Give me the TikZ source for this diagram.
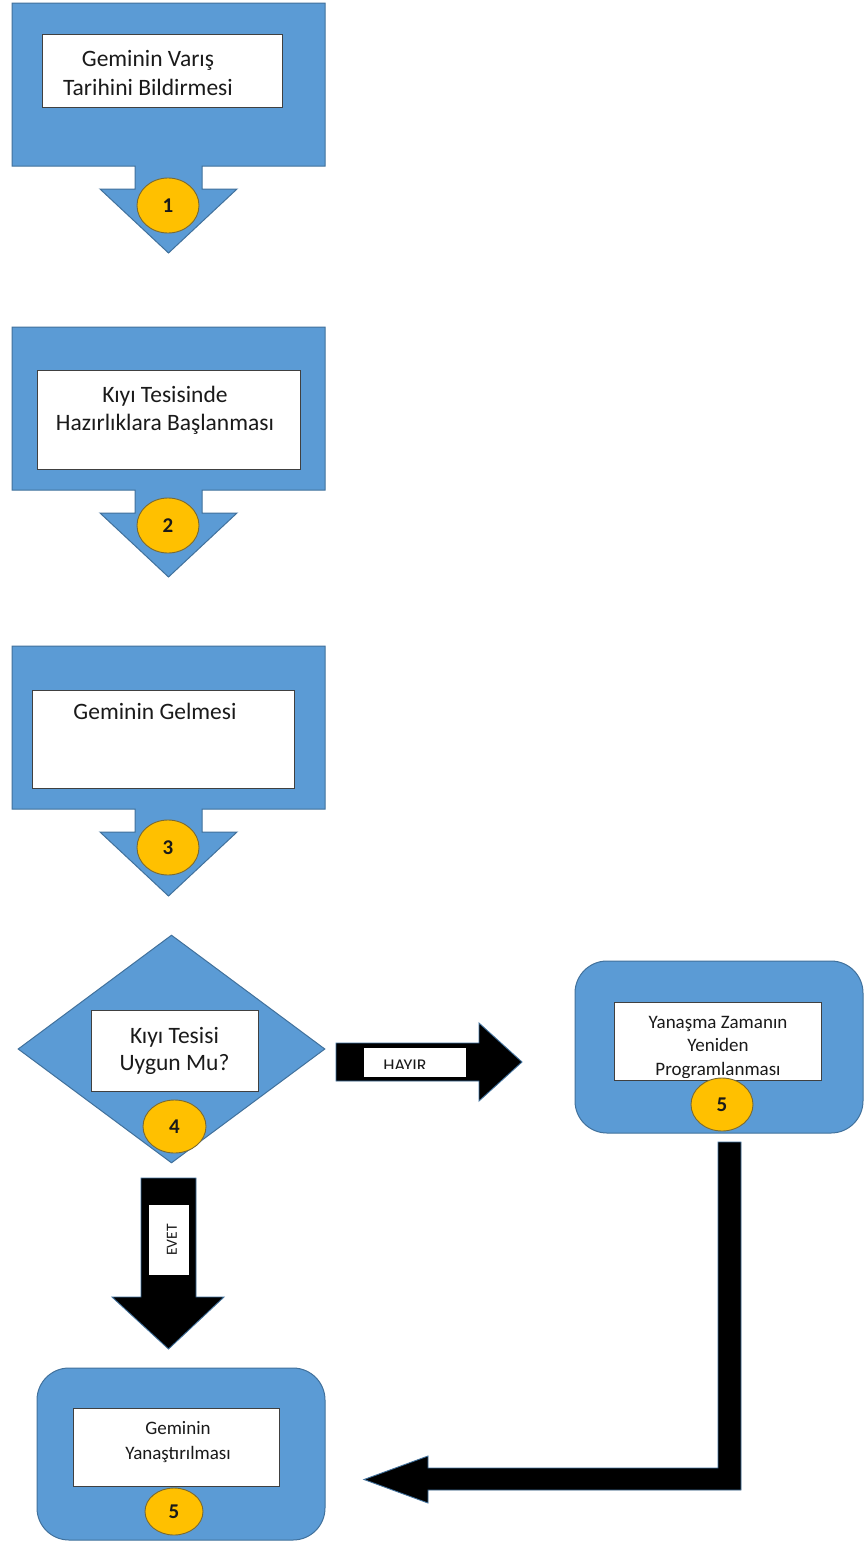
\documentclass[tikz,border=0pt]{standalone}
\usepackage{fontspec}
\setmainfont{Carlito}
\usetikzlibrary{shapes.geometric}
\definecolor{bfill}{HTML}{5B9BD5}
\definecolor{bline}{HTML}{41719C}
\definecolor{yfill}{HTML}{FFC000}
\definecolor{yline}{HTML}{7A6A32}
\definecolor{txt}{HTML}{1A1A1A}
\newcommand\mycallout[1]{%
  \path[blueshape] (12,#1) -- (325,#1) -- (325,{#1+163}) -- (202,{#1+163}) -- (202,{#1+186}) -- (237,{#1+186}) -- (168.5,{#1+250}) -- (100,{#1+186}) -- (135,{#1+186}) -- (135,{#1+163}) -- (12,{#1+163}) -- cycle;}
\begin{document}
\begin{tikzpicture}[x=1pt,y=-1pt,
  blueshape/.style={fill=bfill,draw=bline,line width=1pt},
  whitebox/.style={rectangle,fill=white,draw=black!75,line width=0.9pt,inner sep=0pt},
  numcircle/.style={ellipse,fill=yfill,draw=yline,line width=0.9pt,inner sep=0pt,font=\fontsize{21}{21}\selectfont\bfseries,text=txt},
  maintext/.style={font=\fontsize{23.5}{29}\selectfont,align=center,text=txt,inner sep=0pt},
  smalltext/.style={font=\fontsize{19}{23.5}\selectfont,align=center,text=txt,inner sep=0pt},
  blockarrow/.style={fill=black,draw=bline,line width=0.9pt},
  roundbox/.style={rectangle,rounded corners=32pt,fill=bfill,draw=bline,line width=1pt,minimum width=288pt,minimum height=172pt,inner sep=0pt},
]
\useasboundingbox (0,0) rectangle (867,1545);
\fill[white] (0,0) rectangle (867,1545);

% --- step 1 ---
\mycallout{3}
\node[whitebox, minimum width=240pt, minimum height=73pt] (b1) at (162,70.5) {};
\node[maintext] (t1) at (148,73) {Geminin Varış\\Tarihini Bildirmesi};

% --- step 2 ---
\mycallout{327}
\node[whitebox, minimum width=263pt, minimum height=99pt] (b2) at (168.5,419.5) {};
\node[maintext, font=\fontsize{23.5}{28}\selectfont] (t2) at (165,410) {Kıyı Tesisinde\\Hazırlıklara Başlanması};

% --- step 3 ---
\mycallout{646}
\node[whitebox, minimum width=262pt, minimum height=98pt] (b3) at (163,739) {};
\node[maintext, anchor=base] (t3) at (155,719) {Geminin Gelmesi};

% --- step 4 (decision) ---
\node[diamond, blueshape, minimum width=307pt, minimum height=228pt, inner sep=0pt] (d4) at (171.5,1049) {};
\node[whitebox, minimum width=167pt, minimum height=81pt] (b4) at (174.5,1050.5) {};
\node[maintext, font=\fontsize{23.5}{27}\selectfont] (t4) at (174.5,1051) {Kıyı Tesisi\\Uygun Mu?};

% --- HAYIR arrow ---
\path[blockarrow] (336,1043) -- (479,1043) -- (479,1023) -- (522,1062) -- (479,1101) -- (479,1081) -- (336,1081) -- cycle;
\node[whitebox, draw=none, minimum width=102pt, minimum height=29pt] (hl) at (415,1062.5) {};
\begin{scope}
  \clip (364,1048) rectangle (466,1068);
  \node[font=\fontsize{18}{18}\selectfont, text=txt, anchor=base, inner sep=0pt] (ht) at (405,1071.5) {HAYIR};
\end{scope}

% --- step 5 right ---
\node[roundbox] (r5) at (719,1047) {};
\node[whitebox, minimum width=207pt, minimum height=78pt] (rb) at (717.5,1041) {};
\begin{scope}
  \clip (614,1002) rectangle (821,1077);
  \node[smalltext] (rt) at (718,1047.5) {Yanaşma Zamanın\\Yeniden\\Programlanması};
\end{scope}

% --- EVET arrow ---
\path[blockarrow] (141,1178) -- (196,1178) -- (196,1297) -- (224,1297) -- (168.5,1349) -- (112,1297) -- (141,1297) -- cycle;
\node[whitebox, draw=none, minimum width=40pt, minimum height=70pt] (el) at (169,1240) {};
\node[rotate=90, font=\fontsize{15.5}{15.5}\selectfont, text=txt, inner sep=0pt] (et) at (172,1240) {EVET};

% --- elbow arrow ---
\path[blockarrow] (718,1142) -- (741,1142) -- (741,1490) -- (428,1490) -- (428,1503) -- (364,1479.5) -- (428,1456) -- (428,1468) -- (718,1468) -- cycle;

% --- step 5 bottom ---
\node[roundbox] (b5) at (181,1454) {};
\node[whitebox, minimum width=206pt, minimum height=78pt] (bb) at (176,1447) {};
\node[smalltext, font=\fontsize{19}{25}\selectfont] (bt) at (178,1442) {Geminin\\Yanaştırılması};

% --- number circles ---
\node[numcircle, minimum width=62pt, minimum height=55pt] (c1) at (168,205.5) {1};
\node[numcircle, minimum width=62pt, minimum height=55pt] (c2) at (168,525.5) {2};
\node[numcircle, minimum width=62pt, minimum height=55pt] (c3) at (168,847.5) {3};
\node[numcircle, minimum width=63pt, minimum height=53pt] (c4) at (174.5,1126.5) {4};
\node[numcircle, minimum width=62pt, minimum height=53pt] (c5) at (722,1104.5) {5};
\node[numcircle, minimum width=58pt, minimum height=47pt] (c6) at (174,1511.5) {5};
\end{tikzpicture}
\end{document}
